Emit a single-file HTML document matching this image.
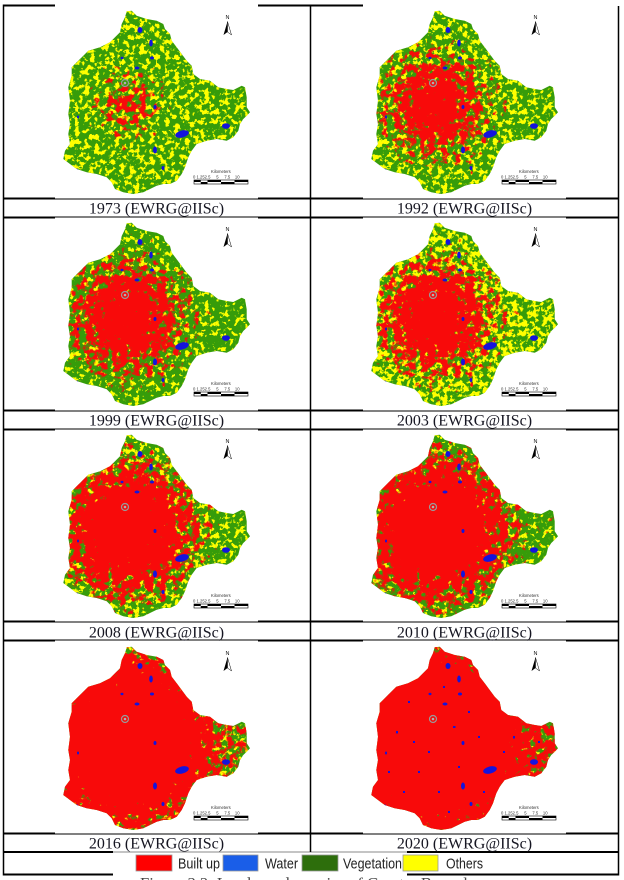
<!DOCTYPE html>
<html><head><meta charset="utf-8"><style>
html,body{margin:0;padding:0;background:#fff;}
svg{display:block;}
</style></head><body>
<svg width="624" height="880" viewBox="0 0 624 880" xmlns="http://www.w3.org/2000/svg">
<defs>
<clipPath id="ol" clipPathUnits="userSpaceOnUse">
<path d="M126.7,6.3 L131.7,5.7 L136.7,10.7 L146.7,14 L156.7,15.7 L163.3,19 L165,24 L170,29 L171.7,35.7 L176.7,42.3 L181.7,49 L186.7,55.7 L191.7,60.7 L193.3,69 L200,74 L210,75.7 L218.3,82.3 L226.7,84 L233.3,85 L241.7,80.7 L245,82.3 L246.7,92.3 L246.7,102.3 L250,107.3 L246.7,110.7 L243.3,114 L240,119 L238.3,125.7 L233.3,132.3 L226.7,135.7 L216.7,134 L206.7,135.7 L196.7,139 L191.7,145.7 L188.3,152.3 L185,162.3 L181.7,169 L176.7,175.7 L170,179 L163.3,179 L156.7,180.7 L150,184 L143.3,187.3 L133.3,189 L123.3,187.3 L115,184 L111.7,177.3 L106.7,172.3 L96.7,169 L86.7,167.3 L76.7,164 L70,159 L63.3,154 L65,145.7 L70,139 L68.3,129 L70,119 L68.3,109 L70,95.7 L68.3,82.3 L71.7,70.7 L71.7,62.3 L80,54 L88.3,45.7 L100,42.3 L110,37.3 L115,32.3 L120,27.3 L121.7,19 L125,12.3 Z"/>
</clipPath>
<radialGradient id="rg" gradientUnits="userSpaceOnUse" cx="128" cy="100" r="100">
<stop offset="0" stop-color="#fff" stop-opacity="1"/>
<stop offset="1" stop-color="#fff" stop-opacity="0"/>
</radialGradient>

<!-- yellow filters -->
<filter id="fy1" filterUnits="userSpaceOnUse" x="55" y="0" width="200" height="195" color-interpolation-filters="sRGB"><feTurbulence type="fractalNoise" baseFrequency="0.2" numOctaves="3" seed="4"/><feColorMatrix type="matrix" values="0 0 0 0 1 0 0 0 0 1 0 0 0 0 0 1 0 0 0 0"/><feComponentTransfer><feFuncA type="linear" slope="14" intercept="-7.34"/></feComponentTransfer></filter>
<filter id="fy2" filterUnits="userSpaceOnUse" x="55" y="0" width="200" height="195" color-interpolation-filters="sRGB"><feTurbulence type="fractalNoise" baseFrequency="0.2" numOctaves="3" seed="4"/><feColorMatrix type="matrix" values="0 0 0 0 1 0 0 0 0 1 0 0 0 0 0 1 0 0 0 0"/><feComponentTransfer><feFuncA type="linear" slope="14" intercept="-7.34"/></feComponentTransfer></filter>
<filter id="fy3" filterUnits="userSpaceOnUse" x="55" y="0" width="200" height="195" color-interpolation-filters="sRGB"><feTurbulence type="fractalNoise" baseFrequency="0.2" numOctaves="3" seed="4"/><feColorMatrix type="matrix" values="0 0 0 0 1 0 0 0 0 1 0 0 0 0 0 1 0 0 0 0"/><feComponentTransfer><feFuncA type="linear" slope="14" intercept="-7.9"/></feComponentTransfer></filter>
<filter id="fy4" filterUnits="userSpaceOnUse" x="55" y="0" width="200" height="195" color-interpolation-filters="sRGB"><feTurbulence type="fractalNoise" baseFrequency="0.2" numOctaves="3" seed="4"/><feColorMatrix type="matrix" values="0 0 0 0 1 0 0 0 0 1 0 0 0 0 0 1 0 0 0 0"/><feComponentTransfer><feFuncA type="linear" slope="14" intercept="-6.78"/></feComponentTransfer></filter>
<filter id="fy5" filterUnits="userSpaceOnUse" x="55" y="0" width="200" height="195" color-interpolation-filters="sRGB"><feTurbulence type="fractalNoise" baseFrequency="0.2" numOctaves="3" seed="4"/><feColorMatrix type="matrix" values="0 0 0 0 1 0 0 0 0 1 0 0 0 0 0 1 0 0 0 0"/><feComponentTransfer><feFuncA type="linear" slope="14" intercept="-7.48"/></feComponentTransfer></filter>
<filter id="fy6" filterUnits="userSpaceOnUse" x="55" y="0" width="200" height="195" color-interpolation-filters="sRGB"><feTurbulence type="fractalNoise" baseFrequency="0.2" numOctaves="3" seed="4"/><feColorMatrix type="matrix" values="0 0 0 0 1 0 0 0 0 1 0 0 0 0 0 1 0 0 0 0"/><feComponentTransfer><feFuncA type="linear" slope="14" intercept="-7.9"/></feComponentTransfer></filter>
<filter id="fy7" filterUnits="userSpaceOnUse" x="55" y="0" width="200" height="195" color-interpolation-filters="sRGB"><feTurbulence type="fractalNoise" baseFrequency="0.2" numOctaves="3" seed="4"/><feColorMatrix type="matrix" values="0 0 0 0 1 0 0 0 0 1 0 0 0 0 0 1 0 0 0 0"/><feComponentTransfer><feFuncA type="linear" slope="14" intercept="-7.34"/></feComponentTransfer></filter>
<filter id="fy8" filterUnits="userSpaceOnUse" x="55" y="0" width="200" height="195" color-interpolation-filters="sRGB"><feTurbulence type="fractalNoise" baseFrequency="0.2" numOctaves="3" seed="4"/><feColorMatrix type="matrix" values="0 0 0 0 1 0 0 0 0 1 0 0 0 0 0 1 0 0 0 0"/><feComponentTransfer><feFuncA type="linear" slope="14" intercept="-7.9"/></feComponentTransfer></filter>

<!-- red filters -->
<filter id="fr1" filterUnits="userSpaceOnUse" x="55" y="0" width="200" height="195" color-interpolation-filters="sRGB"><feTurbulence type="fractalNoise" baseFrequency="0.15" numOctaves="3" seed="11" result="t"/><feColorMatrix in="t" type="matrix" values="0 0 0 0 0 0 0 0 0 0 0 0 0 0 0 1 0 0 0 0" result="na"/><feComposite in="SourceGraphic" in2="na" operator="arithmetic" k1="0" k2="0.5" k3="0.5" k4="0" result="s"/><feComponentTransfer in="s" result="th"><feFuncA type="linear" slope="14" intercept="-9.02"/></feComponentTransfer><feFlood flood-color="#f80a0a"/><feComposite in2="th" operator="in"/></filter>
<filter id="fr2" filterUnits="userSpaceOnUse" x="55" y="0" width="200" height="195" color-interpolation-filters="sRGB"><feTurbulence type="fractalNoise" baseFrequency="0.15" numOctaves="3" seed="11" result="t"/><feColorMatrix in="t" type="matrix" values="0 0 0 0 0 0 0 0 0 0 0 0 0 0 0 1 0 0 0 0" result="na"/><feComposite in="SourceGraphic" in2="na" operator="arithmetic" k1="0" k2="0.5" k3="0.5" k4="0" result="s"/><feComponentTransfer in="s" result="th"><feFuncA type="linear" slope="14" intercept="-6.92"/></feComponentTransfer><feFlood flood-color="#f80a0a"/><feComposite in2="th" operator="in"/></filter>
<filter id="fr3" filterUnits="userSpaceOnUse" x="55" y="0" width="200" height="195" color-interpolation-filters="sRGB"><feTurbulence type="fractalNoise" baseFrequency="0.15" numOctaves="3" seed="11" result="t"/><feColorMatrix in="t" type="matrix" values="0 0 0 0 0 0 0 0 0 0 0 0 0 0 0 1 0 0 0 0" result="na"/><feComposite in="SourceGraphic" in2="na" operator="arithmetic" k1="0" k2="0.5" k3="0.5" k4="0" result="s"/><feComponentTransfer in="s" result="th"><feFuncA type="linear" slope="14" intercept="-6.5"/></feComponentTransfer><feFlood flood-color="#f80a0a"/><feComposite in2="th" operator="in"/></filter>
<filter id="fr4" filterUnits="userSpaceOnUse" x="55" y="0" width="200" height="195" color-interpolation-filters="sRGB"><feTurbulence type="fractalNoise" baseFrequency="0.15" numOctaves="3" seed="11" result="t"/><feColorMatrix in="t" type="matrix" values="0 0 0 0 0 0 0 0 0 0 0 0 0 0 0 1 0 0 0 0" result="na"/><feComposite in="SourceGraphic" in2="na" operator="arithmetic" k1="0" k2="0.5" k3="0.5" k4="0" result="s"/><feComponentTransfer in="s" result="th"><feFuncA type="linear" slope="14" intercept="-6.36"/></feComponentTransfer><feFlood flood-color="#f80a0a"/><feComposite in2="th" operator="in"/></filter>
<filter id="fr5" filterUnits="userSpaceOnUse" x="55" y="0" width="200" height="195" color-interpolation-filters="sRGB"><feTurbulence type="fractalNoise" baseFrequency="0.15" numOctaves="3" seed="11" result="t"/><feColorMatrix in="t" type="matrix" values="0 0 0 0 0 0 0 0 0 0 0 0 0 0 0 1 0 0 0 0" result="na"/><feComposite in="SourceGraphic" in2="na" operator="arithmetic" k1="0" k2="0.5" k3="0.5" k4="0" result="s"/><feComponentTransfer in="s" result="th"><feFuncA type="linear" slope="14" intercept="-5.38"/></feComponentTransfer><feFlood flood-color="#f80a0a"/><feComposite in2="th" operator="in"/></filter>
<filter id="fr6" filterUnits="userSpaceOnUse" x="55" y="0" width="200" height="195" color-interpolation-filters="sRGB"><feTurbulence type="fractalNoise" baseFrequency="0.15" numOctaves="3" seed="11" result="t"/><feColorMatrix in="t" type="matrix" values="0 0 0 0 0 0 0 0 0 0 0 0 0 0 0 1 0 0 0 0" result="na"/><feComposite in="SourceGraphic" in2="na" operator="arithmetic" k1="0" k2="0.5" k3="0.5" k4="0" result="s"/><feComponentTransfer in="s" result="th"><feFuncA type="linear" slope="14" intercept="-4.82"/></feComponentTransfer><feFlood flood-color="#f80a0a"/><feComposite in2="th" operator="in"/></filter>
<filter id="fr7" filterUnits="userSpaceOnUse" x="55" y="0" width="200" height="195" color-interpolation-filters="sRGB"><feTurbulence type="fractalNoise" baseFrequency="0.15" numOctaves="3" seed="11" result="t"/><feColorMatrix in="t" type="matrix" values="0 0 0 0 0 0 0 0 0 0 0 0 0 0 0 1 0 0 0 0" result="na"/><feComposite in="SourceGraphic" in2="na" operator="arithmetic" k1="0" k2="0.5" k3="0.5" k4="0" result="s"/><feComponentTransfer in="s" result="th"><feFuncA type="linear" slope="14" intercept="-3.28"/></feComponentTransfer><feFlood flood-color="#f80a0a"/><feComposite in2="th" operator="in"/></filter>
<filter id="fr8" filterUnits="userSpaceOnUse" x="55" y="0" width="200" height="195" color-interpolation-filters="sRGB"><feTurbulence type="fractalNoise" baseFrequency="0.15" numOctaves="3" seed="11" result="t"/><feColorMatrix in="t" type="matrix" values="0 0 0 0 0 0 0 0 0 0 0 0 0 0 0 1 0 0 0 0" result="na"/><feComposite in="SourceGraphic" in2="na" operator="arithmetic" k1="0" k2="0.5" k3="0.5" k4="0" result="s"/><feComponentTransfer in="s" result="th"><feFuncA type="linear" slope="14" intercept="-2.44"/></feComponentTransfer><feFlood flood-color="#f80a0a"/><feComposite in2="th" operator="in"/></filter>

<g id="lakes" fill="#1414dc">
<ellipse cx="182" cy="129" rx="7" ry="3.5" transform="rotate(-15 182 129)"/>
<ellipse cx="226" cy="121" rx="4" ry="2.8"/>
<ellipse cx="155" cy="145" rx="2" ry="3.5"/>
<ellipse cx="163" cy="163" rx="1.5" ry="2"/>
<ellipse cx="140" cy="25" rx="2.5" ry="3"/>
<ellipse cx="151" cy="38" rx="1.8" ry="3.5"/>
<ellipse cx="152" cy="53" rx="2" ry="1.5"/>
<ellipse cx="122" cy="53" rx="1.5" ry="1.2"/>
<ellipse cx="137" cy="63" rx="2.5" ry="1.5"/>
<ellipse cx="155" cy="102" rx="1.5" ry="2"/>
<ellipse cx="77" cy="165" rx="1.2" ry="1.5"/>
<ellipse cx="78" cy="112" rx="1" ry="1.5"/>
<ellipse cx="217" cy="77" rx="1.2" ry="1.2"/>
</g>
<g id="deco">
<circle cx="125" cy="78" r="3.5" fill="none" stroke="#9a9a9a" stroke-width="1.2"/>
<circle cx="125" cy="78" r="1.3" fill="#b0b0b0"/>
<polygon points="227.5,16.5 223.5,30 227.5,27" fill="#000"/>
<polygon points="227.5,16.5 231.5,30 227.5,27" fill="#fff" stroke="#000" stroke-width="0.5"/>
<rect x="194" y="175" width="54" height="4" fill="#fff" stroke="#000" stroke-width="0.6"/>
<rect x="194" y="175" width="6.75" height="2" fill="#000"/>
<rect x="207.5" y="175" width="13.5" height="2" fill="#000"/>
<rect x="234.5" y="175" width="13.5" height="2" fill="#000"/>
<rect x="200.75" y="177" width="6.75" height="2" fill="#000"/>
<rect x="221" y="177" width="13.5" height="2" fill="#000"/>
</g>
<g id="dots2020" fill="#1414dc">
<rect x="100" y="60" width="2" height="2"/><rect x="88" y="90" width="2" height="2.5"/><rect x="110" y="130" width="2" height="2"/>
<rect x="145" y="85" width="2.5" height="2"/><rect x="170" y="95" width="2" height="2"/><rect x="195" y="110" width="2" height="2"/>
<rect x="130" y="150" width="2" height="2"/><rect x="95" y="150" width="2" height="2"/><rect x="120" y="110" width="2" height="2"/>
<rect x="160" y="70" width="2" height="2"/><rect x="205" y="95" width="2" height="2.5"/><rect x="80" y="130" width="2" height="2"/>
<rect x="140" y="170" width="2" height="2"/><rect x="175" y="150" width="2" height="2"/><rect x="105" y="100" width="2" height="2"/>
<rect x="135" y="45" width="2" height="2"/><rect x="230" y="100" width="2" height="2"/><rect x="150" y="125" width="2" height="2"/>
</g>
</defs>

<!-- MAPS -->
<g transform="translate(0,5)">
 <g clip-path="url(#ol)">
  <rect x="55" y="0" width="200" height="195" fill="#369c0a"/>
  <rect x="55" y="0" width="200" height="195" fill="#fff" filter="url(#fy1)"/>
  <rect x="55" y="0" width="200" height="195" fill="url(#rg)" filter="url(#fr1)"/>
  <use href="#lakes"/>
 </g>
 <use href="#deco"/>
</g>
<g transform="translate(308,5)">
 <g clip-path="url(#ol)">
  <rect x="55" y="0" width="200" height="195" fill="#369c0a"/>
  <rect x="55" y="0" width="200" height="195" fill="#fff" filter="url(#fy2)"/>
  <rect x="55" y="0" width="200" height="195" fill="url(#rg)" filter="url(#fr2)"/>
  <use href="#lakes"/>
 </g>
 <use href="#deco"/>
</g>
<g transform="translate(0,217)">
 <g clip-path="url(#ol)">
  <rect x="55" y="0" width="200" height="195" fill="#369c0a"/>
  <rect x="55" y="0" width="200" height="195" fill="#fff" filter="url(#fy3)"/>
  <rect x="55" y="0" width="200" height="195" fill="url(#rg)" filter="url(#fr3)"/>
  <use href="#lakes"/>
 </g>
 <use href="#deco"/>
</g>
<g transform="translate(308,217)">
 <g clip-path="url(#ol)">
  <rect x="55" y="0" width="200" height="195" fill="#369c0a"/>
  <rect x="55" y="0" width="200" height="195" fill="#fff" filter="url(#fy4)"/>
  <rect x="55" y="0" width="200" height="195" fill="url(#rg)" filter="url(#fr4)"/>
  <use href="#lakes"/>
 </g>
 <use href="#deco"/>
</g>
<g transform="translate(0,429)">
 <g clip-path="url(#ol)">
  <rect x="55" y="0" width="200" height="195" fill="#369c0a"/>
  <rect x="55" y="0" width="200" height="195" fill="#fff" filter="url(#fy5)"/>
  <rect x="55" y="0" width="200" height="195" fill="url(#rg)" filter="url(#fr5)"/>
  <use href="#lakes"/>
 </g>
 <use href="#deco"/>
</g>
<g transform="translate(308,429)">
 <g clip-path="url(#ol)">
  <rect x="55" y="0" width="200" height="195" fill="#369c0a"/>
  <rect x="55" y="0" width="200" height="195" fill="#fff" filter="url(#fy6)"/>
  <rect x="55" y="0" width="200" height="195" fill="url(#rg)" filter="url(#fr6)"/>
  <use href="#lakes"/>
 </g>
 <use href="#deco"/>
</g>
<g transform="translate(0,641)">
 <g clip-path="url(#ol)">
  <rect x="55" y="0" width="200" height="195" fill="#369c0a"/>
  <rect x="55" y="0" width="200" height="195" fill="#fff" filter="url(#fy7)"/>
  <rect x="55" y="0" width="200" height="195" fill="url(#rg)" filter="url(#fr7)"/>
  <use href="#lakes"/>
 </g>
 <use href="#deco"/>
</g>
<g transform="translate(308,641)">
 <g clip-path="url(#ol)">
  <rect x="55" y="0" width="200" height="195" fill="#369c0a"/>
  <rect x="55" y="0" width="200" height="195" fill="#fff" filter="url(#fy8)"/>
  <rect x="55" y="0" width="200" height="195" fill="url(#rg)" filter="url(#fr8)"/>
  <use href="#lakes"/>
  <use href="#dots2020"/>
 </g>
 <use href="#deco"/>
</g>

<!-- map small texts -->
<g font-family="Liberation Sans, sans-serif" fill="#111">
 <g font-size="5.5" text-anchor="middle">
  <text x="227.5" y="19">N</text><text x="535.5" y="19">N</text>
  <text x="227.5" y="231">N</text><text x="535.5" y="231">N</text>
  <text x="227.5" y="443">N</text><text x="535.5" y="443">N</text>
  <text x="227.5" y="655">N</text><text x="535.5" y="655">N</text>
 </g>
 <g font-size="4.2" fill="#333">
  <text x="211" y="173">Kilometers</text><text x="519" y="173">Kilometers</text>
  <text x="211" y="385">Kilometers</text><text x="519" y="385">Kilometers</text>
  <text x="211" y="597">Kilometers</text><text x="519" y="597">Kilometers</text>
  <text x="211" y="809">Kilometers</text><text x="519" y="809">Kilometers</text>
  <text x="193" y="178.5">0 1.252.5&#160;&#160;&#160;&#160;&#160;5&#160;&#160;&#160;&#160;&#160;7.5&#160;&#160;&#160;&#160;10</text>
  <text x="501" y="178.5">0 1.252.5&#160;&#160;&#160;&#160;&#160;5&#160;&#160;&#160;&#160;&#160;7.5&#160;&#160;&#160;&#160;10</text>
  <text x="193" y="390.5">0 1.252.5&#160;&#160;&#160;&#160;&#160;5&#160;&#160;&#160;&#160;&#160;7.5&#160;&#160;&#160;&#160;10</text>
  <text x="501" y="390.5">0 1.252.5&#160;&#160;&#160;&#160;&#160;5&#160;&#160;&#160;&#160;&#160;7.5&#160;&#160;&#160;&#160;10</text>
  <text x="193" y="602.5">0 1.252.5&#160;&#160;&#160;&#160;&#160;5&#160;&#160;&#160;&#160;&#160;7.5&#160;&#160;&#160;&#160;10</text>
  <text x="501" y="602.5">0 1.252.5&#160;&#160;&#160;&#160;&#160;5&#160;&#160;&#160;&#160;&#160;7.5&#160;&#160;&#160;&#160;10</text>
  <text x="193" y="814.5">0 1.252.5&#160;&#160;&#160;&#160;&#160;5&#160;&#160;&#160;&#160;&#160;7.5&#160;&#160;&#160;&#160;10</text>
  <text x="501" y="814.5">0 1.252.5&#160;&#160;&#160;&#160;&#160;5&#160;&#160;&#160;&#160;&#160;7.5&#160;&#160;&#160;&#160;10</text>
 </g>
</g>

<!-- TABLE LINES -->
<g stroke="#000" fill="none">
 <g stroke-width="2">
  <line x1="3" y1="5.5" x2="55" y2="5.5"/><line x1="258" y1="5.5" x2="363" y2="5.5"/>
  <line x1="3" y1="198.5" x2="55" y2="198.5"/><line x1="258" y1="198.5" x2="363" y2="198.5"/><line x1="566" y1="198.5" x2="619" y2="198.5"/>
  <line x1="3" y1="217.5" x2="55" y2="217.5"/><line x1="258" y1="217.5" x2="363" y2="217.5"/><line x1="566" y1="217.5" x2="619" y2="217.5"/>
  <line x1="3" y1="410.5" x2="55" y2="410.5"/><line x1="258" y1="410.5" x2="363" y2="410.5"/><line x1="566" y1="410.5" x2="619" y2="410.5"/>
  <line x1="3" y1="429.5" x2="55" y2="429.5"/><line x1="258" y1="429.5" x2="363" y2="429.5"/><line x1="566" y1="429.5" x2="619" y2="429.5"/>
  <line x1="3" y1="621.5" x2="55" y2="621.5"/><line x1="258" y1="621.5" x2="363" y2="621.5"/><line x1="566" y1="621.5" x2="619" y2="621.5"/>
  <line x1="3" y1="640.5" x2="55" y2="640.5"/><line x1="258" y1="640.5" x2="363" y2="640.5"/><line x1="566" y1="640.5" x2="619" y2="640.5"/>
  <line x1="3" y1="833.5" x2="55" y2="833.5"/><line x1="258" y1="833.5" x2="363" y2="833.5"/><line x1="566" y1="833.5" x2="619" y2="833.5"/>
  <line x1="3" y1="852" x2="113" y2="852"/><line x1="407" y1="852" x2="619" y2="852"/>
  <line x1="3" y1="874.5" x2="113" y2="874.5"/><line x1="407" y1="874.5" x2="619" y2="874.5"/>
 </g>
 <g stroke-width="1">
  <line x1="55" y1="199" x2="258" y2="199"/><line x1="363" y1="199" x2="566" y2="199"/>
  <line x1="55" y1="217" x2="258" y2="217"/><line x1="363" y1="217" x2="566" y2="217"/>
  <line x1="55" y1="411" x2="258" y2="411"/><line x1="363" y1="411" x2="566" y2="411"/>
  <line x1="55" y1="429" x2="258" y2="429"/><line x1="363" y1="429" x2="566" y2="429"/>
  <line x1="55" y1="622" x2="258" y2="622"/><line x1="363" y1="622" x2="566" y2="622"/>
  <line x1="55" y1="640" x2="258" y2="640"/><line x1="363" y1="640" x2="566" y2="640"/>
  <line x1="55" y1="834" x2="258" y2="834"/><line x1="363" y1="834" x2="566" y2="834"/>
  <line x1="113" y1="852" x2="407" y2="852" stroke="#888"/>
 </g>
 <g stroke-width="1.5">
  <line x1="3.5" y1="4.5" x2="3.5" y2="875.5"/>
  <line x1="310.5" y1="4.5" x2="310.5" y2="852"/>
  <line x1="618.5" y1="6" x2="618.5" y2="875.5"/>
 </g>
</g>

<!-- CAPTIONS -->
<g font-family="Liberation Serif, serif" font-size="16" fill="#161622" text-anchor="middle">
 <text x="156.5" y="213.5">1973 (EWRG@IISc)</text>
 <text x="464.5" y="213.5">1992 (EWRG@IISc)</text>
 <text x="156.5" y="425.5">1999 (EWRG@IISc)</text>
 <text x="464.5" y="425.5">2003 (EWRG@IISc)</text>
 <text x="156.5" y="637.5">2008 (EWRG@IISc)</text>
 <text x="464.5" y="637.5">2010 (EWRG@IISc)</text>
 <text x="156.5" y="848.5">2016 (EWRG@IISc)</text>
 <text x="464.5" y="848.5">2020 (EWRG@IISc)</text>
</g>

<!-- LEGEND -->
<g stroke="#9a9a9a" stroke-width="0.8">
 <rect x="136" y="855" width="36" height="16" fill="#ff0000"/>
 <rect x="223" y="855" width="35" height="16" fill="#1a5ee8"/>
 <rect x="302" y="855" width="36" height="16" fill="#2d6e0c"/>
 <rect x="403" y="855" width="35" height="16" fill="#ffff00"/>
</g>
<g font-family="Liberation Sans, sans-serif" font-size="15" fill="#222">
 <text x="178" y="868.5" textLength="42" lengthAdjust="spacingAndGlyphs">Built up</text>
 <text x="265" y="868.5" textLength="33" lengthAdjust="spacingAndGlyphs">Water</text>
 <text x="343" y="868.5" textLength="59" lengthAdjust="spacingAndGlyphs">Vegetation</text>
 <text x="446" y="868.5" textLength="37" lengthAdjust="spacingAndGlyphs">Others</text>
</g>

<!-- Figure caption (cut off) -->
<text x="140" y="888.5" font-family="Liberation Serif, serif" font-size="16" fill="#444" textLength="350" lengthAdjust="spacingAndGlyphs">Figure 3.2: Land use dynamics of Greater Bengaluru</text>
</svg>
</body></html>
